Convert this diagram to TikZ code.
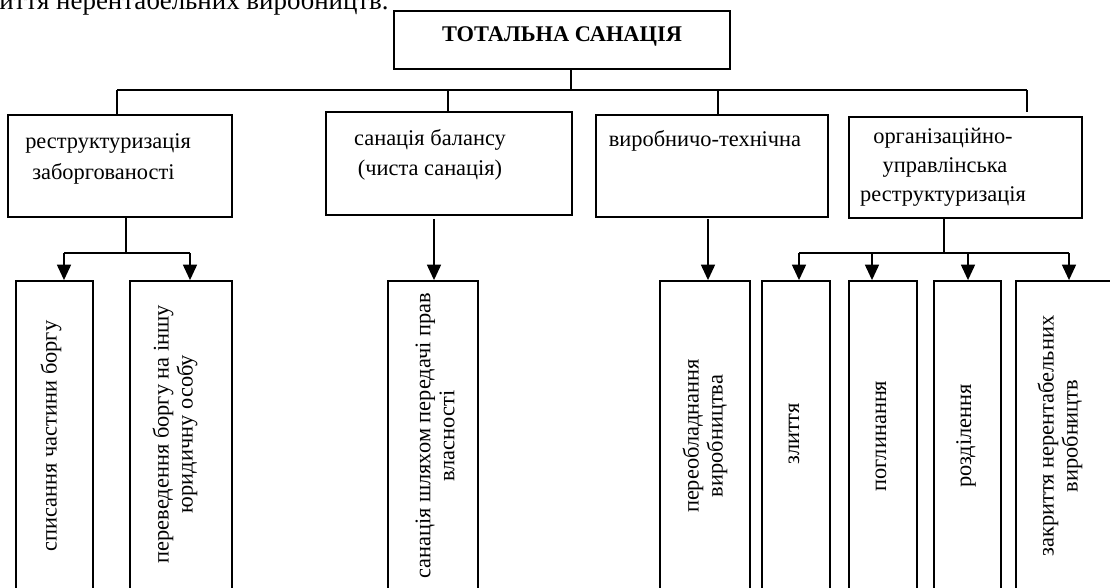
\documentclass[tikz,border=0pt]{standalone}
\usepackage{fontspec}
\setmainfont{Liberation Serif}
\usetikzlibrary{arrows.meta,fit}

\tikzset{
  box/.style={draw, rectangle, line width=1.4pt, inner sep=0pt},
  txt/.style={inner sep=0pt, font=\fontsize{16.8}{20}\selectfont},
  vtxt/.style={inner sep=0pt, rotate=90, align=center,
               font=\fontsize{16.8}{18}\selectfont},
  conn/.style={line width=1pt},
  arr/.style={conn, -{Triangle[length=11.5pt,width=10.5pt]}}
}

\begin{document}
\begin{tikzpicture}[x=0.75pt,y=-0.75pt]
\useasboundingbox (0,0) rectangle (1110,587);
\clip (0,0) rectangle (1110,587);

% last line of the preceding paragraph
\node[inner sep=0pt, anchor=base east, font=\fontsize{20.2}{24}\selectfont] (prev) at (389,9) {закриття нерентабельних виробництв.};

% top level
\node[box, fit={(394,11)(730,69)}] (t) {};
\node[txt, anchor=base, font=\fontsize{16.8}{20}\selectfont\bfseries] (tt) at (562,41) {ТОТАЛЬНА САНАЦІЯ};

% second level
\node[box, fit={(8,115)(232,217)}] (b1) {};
\node[box, fit={(326,112)(572,215)}] (b2) {};
\node[box, fit={(596,115)(828,217)}] (b3) {};
\node[box, fit={(849,117)(1082,218)}] (b4) {};

\node[txt, anchor=base west] (b1a) at (25,148) {реструктуризація};
\node[txt, anchor=base west] (b1b) at (32,179) {заборгованості};
\node[txt, anchor=base] (b2a) at (430,145) {санація балансу};
\node[txt, anchor=base] (b2b) at (430,175) {(чиста санація)};
\node[txt, anchor=base] (b3a) at (705,146) {виробничо-технічна};
\node[txt, anchor=base] (b4a) at (943,143) {організаційно-};
\node[txt, anchor=base] (b4b) at (945,172) {управлінська};
\node[txt, anchor=base] (b4c) at (943,201) {реструктуризація};

% third level
\node[box, fit={(16,281)(93,592)}] (s1) {};
\node[box, fit={(130,281)(232,592)}] (s2) {};
\node[box, fit={(388,281)(478,592)}] (s3) {};
\node[box, fit={(660,281)(750,592)}] (s4) {};
\node[box, fit={(762,281)(830,592)}] (s5) {};
\node[box, fit={(849,281)(917,592)}] (s6) {};
\node[box, fit={(934,281)(1001,592)}] (s7) {};
\node[box, fit={(1016,281)(1114,592)}] (s8) {};

\node[vtxt] (s1t) at (51,436) {списання частини боргу};
\node[vtxt] (s2t) at (175,434) {переведення боргу на іншу\\юридичну особу};
\node[vtxt] (s3t) at (435,436) {санація шляхом передачі прав\\власності};
\node[vtxt] (s4t) at (705,436) {переобладнання\\виробництва};
\node[vtxt] (s5t) at (794,434) {злиття};
\node[vtxt] (s6t) at (881,436) {поглинання};
\node[vtxt] (s7t) at (966,436) {розділення};
\node[vtxt] (s8t) at (1060,436) {закриття нерентабельних\\виробництв};

% upper bus
\coordinate (j0) at (571,90);
\coordinate (busL) at (117,90);
\coordinate (busR) at (1027,90);
\coordinate (j2) at (448,90);
\coordinate (j3) at (718,90);
\draw[conn] (t.south -| j0) -- (j0);
\draw[conn] (busL) -- (busR);
\draw[conn] (busL) -- (b1.north -| busL);
\draw[conn] (j2) -- (b2.north -| j2);
\draw[conn] (j3) -- (b3.north -| j3);
\draw[conn] (busR) -- ([yshift=3pt]b4.north -| busR);

% branches below the second level
\coordinate (k1) at (126,253);
\coordinate (a1) at (64,253);
\coordinate (a2) at (190,253);
\draw[conn] (b1.south -| k1) -- (k1);
\draw[conn] (a1) -- (a2);
\draw[arr] (a1) -- (s1.north -| a1);
\draw[arr] (a2) -- (s2.north -| a2);

\coordinate (c2) at (434,250);
\draw[arr] ([yshift=-2.25pt]b2.south -| c2) -- (s3.north -| c2);
\coordinate (c3) at (708,250);
\draw[arr] ([yshift=-1pt]b3.south -| c3) -- (s4.north -| c3);

\coordinate (k4) at (944,253);
\coordinate (d1) at (799,253);
\coordinate (d2) at (872,253);
\coordinate (d3) at (968,253);
\coordinate (d4) at (1069,253);
\draw[conn] (b4.south -| k4) -- (k4);
\draw[conn] (d1) -- (d4);
\draw[arr] (d1) -- (s5.north -| d1);
\draw[arr] (d2) -- (s6.north -| d2);
\draw[arr] (d3) -- (s7.north -| d3);
\draw[arr] (d4) -- (s8.north -| d4);
\end{tikzpicture}
\end{document}
